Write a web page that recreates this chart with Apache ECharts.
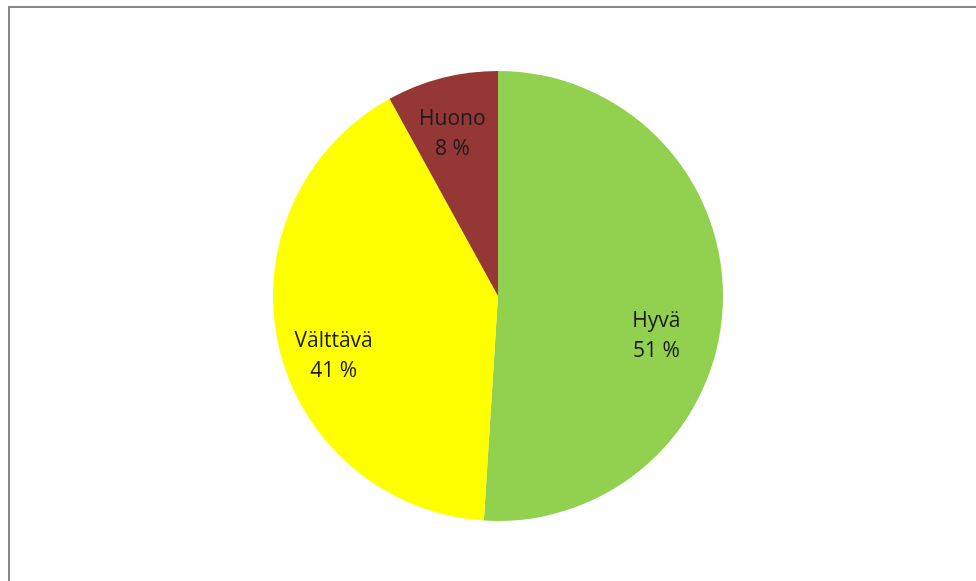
<!DOCTYPE html>
<html>
<head>
<meta charset="utf-8">
<script src="https://cdn.jsdelivr.net/npm/echarts@6/dist/echarts.min.js"></script>
<style>
  html, body { margin: 0; padding: 0; background: #fff; }
  #chart { width: 976px; height: 581px; }
</style>
</head>
<body>
<div id="chart"></div>
<script>
// Condition shares (percent)
const categories = ['Hyvä', 'Välttävä', 'Huono'];
const shares = [51, 41, 8];
const sliceColors = ['#92D050', '#FFFF00', '#953735'];
// Nudges for the in-slice labels, in pixels
const labelNudges = [[-13, 35], [3, 23], [-3, 4]];

const chart = echarts.init(document.getElementById('chart'));

const slices = categories.map((name, i) => ({
  name,
  value: shares[i],
  itemStyle: { color: sliceColors[i] }
}));

const labelSlices = categories.map((name, i) => ({
  name,
  value: shares[i],
  label: { offset: labelNudges[i] }
}));

chart.setOption({
  animation: false,
  graphic: [{
    type: 'rect',
    shape: { x: 9, y: 7, width: 1000, height: 600 },
    style: { fill: 'none', stroke: '#888888', lineWidth: 2 },
    z: 10
  }],
  series: [
    {
      type: 'pie',
      center: [498, 296],
      radius: [0, 225],
      startAngle: 90,
      clockwise: true,
      label: { show: false },
      labelLine: { show: false },
      emphasis: { disabled: true },
      itemStyle: { borderWidth: 0 },
      data: slices
    },
    {
      // Transparent ring used only to place labels at ~3/4 of the radius
      type: 'pie',
      center: [498, 296],
      radius: [112, 225],
      startAngle: 90,
      clockwise: true,
      silent: true,
      itemStyle: { color: 'rgba(0,0,0,0)', borderWidth: 0 },
      emphasis: { disabled: true },
      labelLine: { show: false },
      label: {
        show: true,
        position: 'inside',
        formatter: p => p.name + '\n' + p.value + ' %',
        fontFamily: '"Open Sans", sans-serif',
        fontSize: 21,
        lineHeight: 30,
        color: '#1a1a1a',
        align: 'center'
      },
      data: labelSlices
    }
  ]
});
</script>
</body>
</html>
